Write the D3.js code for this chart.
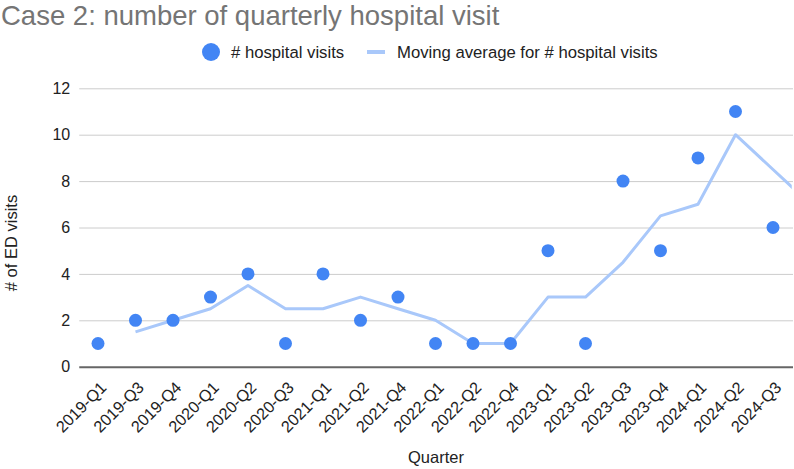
<!DOCTYPE html>
<html>
<head>
<meta charset="utf-8">
<script src="https://cdn.jsdelivr.net/npm/d3@7"></script>
<style>
  body { margin: 0; background: #fff; }
  text { font-family: "Liberation Sans", Arial, sans-serif; }
</style>
</head>
<body>
<div id="container"></div>
<script>
/* CONSTANTS AND GLOBALS */
const width = 794;
const height = 469;
const margin = {top: 88.3, bottom: 102.3, left: 79.25, right: 2.25};

/* DATA */
const quarters = ["2019-Q1", "2019-Q3", "2019-Q4", "2020-Q1", "2020-Q2", "2020-Q3",
  "2021-Q1", "2021-Q2", "2021-Q4", "2022-Q1", "2022-Q2", "2022-Q4",
  "2023-Q1", "2023-Q2", "2023-Q3", "2023-Q4", "2024-Q1", "2024-Q2", "2024-Q3"];
const visits = [1, 2, 2, 3, 4, 1, 4, 2, 3, 1, 1, 1, 5, 1, 8, 5, 9, 11, 6];
// 2-period moving average (first quarter has none)
const movingAvg = [null, 1.5, 2, 2.5, 3.5, 2.5, 2.5, 3, 2.5, 2, 1, 1, 3, 3, 4.5, 6.5, 7, 10, 8.5];
const yTicks = [0, 2, 4, 6, 8, 10, 12];

const blue = "#4285f4";
const lightBlue = "#a9c8fa";

const svg = d3.select("#container")
  .append("svg")
  .attr("width", width)
  .attr("height", height);

/* SCALES */
const xScale = d3.scalePoint()
  .domain(quarters)
  .range([margin.left, width - margin.right])
  .padding(0.5);

const yScale = d3.scaleLinear()
  .domain([0, 12])
  .range([height - margin.bottom, margin.top]);

// title
svg.append("text")
  .attr("x", 1)
  .attr("y", 25)
  .attr("font-size", 27.5)
  .attr("fill", "#757575")
  .text("Case 2: number of quarterly hospital visit");

// legend
const legend = svg.append("g");
legend.append("circle")
  .attr("cx", 211).attr("cy", 52).attr("r", 9)
  .attr("fill", blue);
legend.append("text")
  .attr("x", 231).attr("y", 58)
  .attr("font-size", 16.7).attr("fill", "#222")
  .text("# hospital visits");
legend.append("line")
  .attr("x1", 367).attr("x2", 385).attr("y1", 52).attr("y2", 52)
  .attr("stroke", lightBlue).attr("stroke-width", 4);
legend.append("text")
  .attr("x", 397).attr("y", 58)
  .attr("font-size", 16.7).attr("fill", "#222")
  .text("Moving average for # hospital visits");

// gridlines + y labels
const yAxisGroup = svg.append("g")
  .attr("transform", `translate(${margin.left},0)`)
  .call(d3.axisLeft(yScale).tickValues(yTicks).tickSize(-(width - margin.left - 1)).tickPadding(9));
yAxisGroup.select(".domain").remove();
yAxisGroup.selectAll(".tick line")
  .attr("stroke", d => d === 0 ? "#666" : "#cccccc")
  .attr("stroke-width", d => d === 0 ? 2 : 1);
yAxisGroup.selectAll(".tick text")
  .attr("font-size", 16)
  .attr("fill", "#222")
  .attr("font-family", "Liberation Sans, Arial, sans-serif");

// x axis labels
const xAxisGroup = svg.append("g")
  .attr("transform", `translate(0,${yScale(0)})`)
  .call(d3.axisBottom(xScale).tickSize(0).tickPadding(0));
xAxisGroup.select(".domain").remove();
xAxisGroup.selectAll(".tick text")
  .attr("font-size", 16.3)
  .attr("fill", "#222")
  .attr("font-family", "Liberation Sans, Arial, sans-serif")
  .attr("text-anchor", "end")
  .attr("dy", 0)
  .attr("y", 0)
  .attr("transform", "translate(9,22) rotate(-45)");

// axis titles
svg.append("text")
  .attr("x", 436).attr("y", 463)
  .attr("text-anchor", "middle")
  .attr("font-size", 16.5).attr("fill", "#222")
  .text("Quarter");
svg.append("text")
  .attr("transform", "translate(17,243) rotate(-90)")
  .attr("text-anchor", "middle")
  .attr("font-size", 16.5).attr("fill", "#222")
  .text("# of ED visits");

// moving average line, last segment carried to the plot edge
svg.append("clipPath").attr("id", "plotClip")
  .append("rect")
  .attr("x", margin.left).attr("y", margin.top - 20)
  .attr("width", width - margin.left - margin.right)
  .attr("height", yScale(0) - margin.top + 20);

const maPoints = quarters.map((q, i) => [q, movingAvg[i]]).filter(d => d[1] !== null);
const last = maPoints[maPoints.length - 1], prev = maPoints[maPoints.length - 2];
const lineGen = d3.line()
  .x(d => xScale(d[0]))
  .y(d => yScale(d[1]));
const path = lineGen(maPoints);
const step = xScale.step();
const slope = (yScale(last[1]) - yScale(prev[1])) / step;
svg.append("path")
  .attr("clip-path", "url(#plotClip)")
  .attr("d", path + `L${xScale(last[0]) + step},${yScale(last[1]) + slope * step}`)
  .attr("fill", "none")
  .attr("stroke", lightBlue)
  .attr("stroke-width", 3)
  .attr("stroke-linejoin", "round");

// dots
svg.selectAll("circle.dot")
  .data(quarters.map((q, i) => ({q, v: visits[i]})))
  .join("circle")
  .attr("class", "dot")
  .attr("cx", d => xScale(d.q))
  .attr("cy", d => yScale(d.v))
  .attr("r", 6.5)
  .attr("fill", blue);
</script>
</body>
</html>
